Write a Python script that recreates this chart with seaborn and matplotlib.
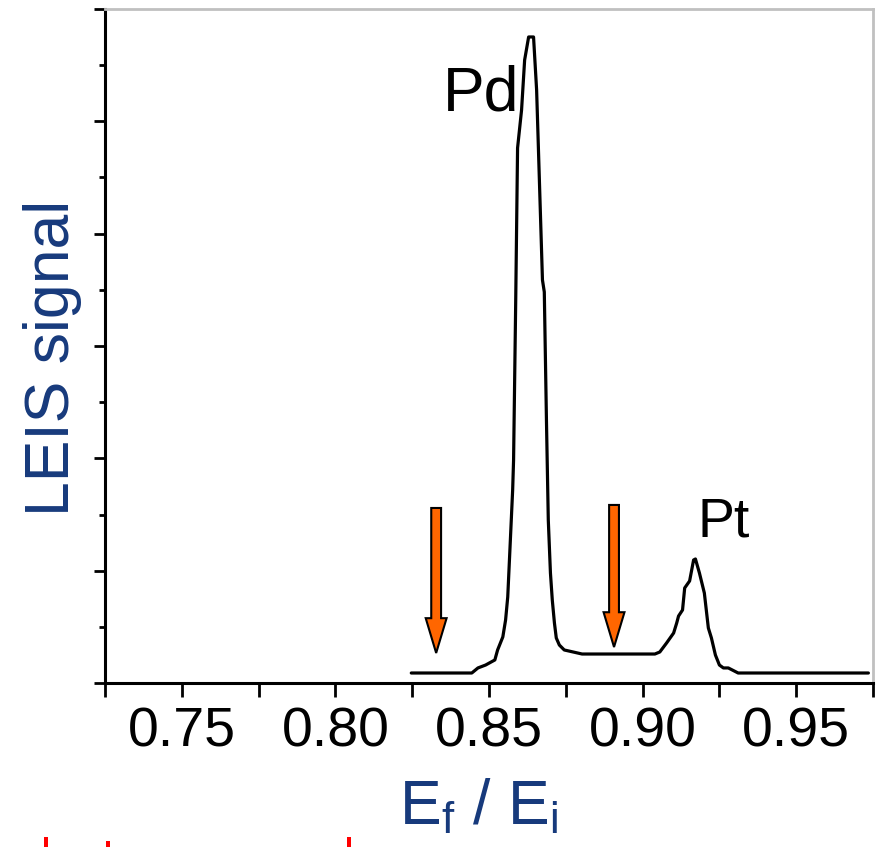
import numpy as np
import pandas as pd
import matplotlib
matplotlib.use("Agg")
import matplotlib.pyplot as plt
from matplotlib.patches import FancyArrow, Rectangle
from matplotlib.ticker import MultipleLocator, FixedLocator
import seaborn as sns

# LEIS spectrum: energy ratio Ef/Ei vs. signal (arbitrary units)
energy_ratio = [0.8247, 0.8444, 0.8464, 0.8489, 0.8519, 0.8528, 0.8545, 0.8554,
                0.8561, 0.8567, 0.8577, 0.8580, 0.8587, 0.8593, 0.8606, 0.8616,
                0.8629, 0.8645, 0.8655, 0.8664, 0.8674, 0.8680, 0.8687, 0.8693,
                0.8700, 0.8706, 0.8713, 0.8719, 0.8729, 0.8745, 0.8803, 0.9040,
                0.9056, 0.9078, 0.9101, 0.9111, 0.9117, 0.9130, 0.9137, 0.9153,
                0.9166, 0.9172, 0.9185, 0.9201, 0.9214, 0.9224, 0.9237, 0.9250,
                0.9263, 0.9279, 0.9311, 0.9735]
signal = [0.089, 0.089, 0.134, 0.160, 0.205, 0.294, 0.410, 0.561,
          0.766, 1.122, 1.718, 1.985, 3.410, 4.763, 5.101, 5.546,
          5.751, 5.751, 5.279, 4.478, 3.588, 3.481, 2.341, 1.451,
          0.979, 0.739, 0.534, 0.401, 0.338, 0.294, 0.258, 0.258,
          0.276, 0.356, 0.445, 0.534, 0.596, 0.650, 0.846, 0.908,
          1.095, 1.104, 0.979, 0.801, 0.490, 0.401, 0.249, 0.160,
          0.134, 0.134, 0.089, 0.089]

x_ticks = [0.75, 0.80, 0.85, 0.90, 0.95]
x_tick_labels = ["0.75", "0.80", "0.85", "0.90", "0.95"]

peak_labels = ["Pd", "Pt"]
peak_label_pos = [(0.8600, 5.10), (0.9179, 1.30)]

# integration window markers (x, arrow top, arrow tip)
arrow_x = [0.8328, 0.8907]
arrow_top = [1.558, 1.585]
arrow_tip = [0.267, 0.320]

navy = "#173A7C"
orange = "#FF6600"

sns.set_theme(style="ticks")
plt.rcParams["font.family"] = ["Liberation Sans", "DejaVu Sans"]
plt.rcParams["mathtext.fontset"] = "custom"
plt.rcParams["mathtext.rm"] = "Liberation Sans"
plt.rcParams["mathtext.it"] = "Liberation Sans"

fig = plt.figure(figsize=(8.78, 8.47), dpi=100)
ax = fig.add_axes([105 / 878, 1 - 683 / 847, 768 / 878, 674 / 847])

df = pd.DataFrame({"ratio": energy_ratio, "signal": signal})
sns.lineplot(data=df, x="ratio", y="signal", ax=ax, color="black",
             linewidth=2.3, estimator=None, sort=False)

ax.set_xlim(0.725, 0.975)
ax.set_ylim(0, 6)

ax.xaxis.set_major_locator(FixedLocator(x_ticks))
ax.set_xticklabels(x_tick_labels)
ax.xaxis.set_minor_locator(FixedLocator([0.725, 0.775, 0.825, 0.875, 0.925, 0.975]))
ax.yaxis.set_major_locator(MultipleLocator(1))
ax.yaxis.set_minor_locator(MultipleLocator(0.5))
ax.set_yticklabels([])

ax.tick_params(axis="x", which="both", direction="out", length=10, width=2.0,
               color="black", labelcolor="black", labelsize=40, pad=7)
ax.tick_params(axis="y", which="major", direction="out", length=8, width=2.0, color="black")
ax.tick_params(axis="y", which="minor", direction="out", length=4, width=2.0, color="black")

for side in ["left", "bottom"]:
    ax.spines[side].set_color("black")
    ax.spines[side].set_linewidth(2.2)
for side in ["top", "right"]:
    ax.spines[side].set_color("#C0C0C0")
    ax.spines[side].set_linewidth(2.0)
    ax.spines[side].set_visible(True)

ax.set_ylabel("LEIS signal", fontsize=45, color=navy)
ax.yaxis.set_label_coords(-0.030, 0.482)
ax.set_xlabel(r"E$_{\mathrm{f}}$ / E$_{\mathrm{i}}$", fontsize=45, color=navy)
ax.xaxis.set_label_coords(0.486, -0.14)

for label, (px, py) in zip(peak_labels, peak_label_pos):
    ha = "right" if label == "Pd" else "left"
    ax.text(px, py, label, fontsize=45 if label == "Pd" else 40,
            ha=ha, va="baseline", color="black")

for x, top, tip in zip(arrow_x, arrow_top, arrow_tip):
    ax.add_patch(FancyArrow(x, top, 0, tip - top, width=0.0032,
                            head_width=0.0068, head_length=0.31,
                            length_includes_head=True, facecolor=orange,
                            edgecolor="black", linewidth=1.5, zorder=3))

# small red marks at the lower edge of the figure
for left, height in [(44, 10), (106, 6), (347, 10)]:
    fig.patches.append(Rectangle((left / 878, 0), 4 / 878, height / 847,
                                 transform=fig.transFigure, facecolor="#FF0000",
                                 edgecolor="none"))

fig.savefig("out.png", dpi=100, facecolor="white")
